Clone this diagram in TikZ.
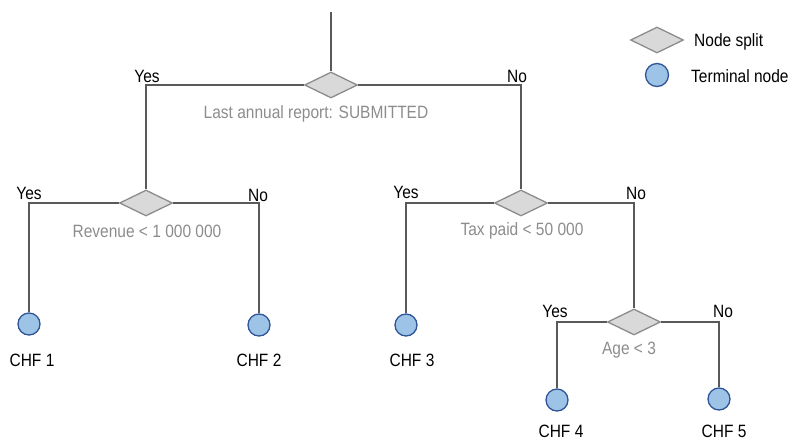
\documentclass[tikz,border=0pt]{standalone}
\usepackage{fontspec}
\setmainfont{Liberation Sans}
\usetikzlibrary{shapes.geometric}
\definecolor{linec}{HTML}{595959}
\definecolor{dfill}{HTML}{D9D9D9}
\definecolor{dline}{HTML}{8C8C8C}
\definecolor{cfill}{HTML}{9DC3E6}
\definecolor{cline}{HTML}{2F5597}
\definecolor{gtext}{HTML}{8C8C8C}
\newcommand\tallt[1]{\scalebox{1}[1.15]{#1}}
\tikzset{
  x=1pt,y=-1pt,
  conn/.style={draw=linec,line width=1.3pt},
  split/.style={diamond,draw=dline,fill=dfill,line width=1.3pt,minimum width=53pt,minimum height=26pt,inner sep=0pt,aspect=2},
  term/.style={circle,draw=cline,fill=cfill,line width=1.3pt,minimum size=22pt,inner sep=0pt},
  lbl/.style={anchor=base,inner sep=0pt,font=\fontsize{15.5}{18}\selectfont,text=black},
  cond/.style={lbl,text=gtext},
  leg/.style={anchor=base west,inner sep=0pt,font=\fontsize{15.5}{18}\selectfont,text=black},
}
\begin{document}
\begin{tikzpicture}
\useasboundingbox (0,0) rectangle (792,442);
% split nodes
\node[split] (d1) at (331,85) {};
\node[split] (d2) at (146,203) {};
\node[split] (d3) at (521,203) {};
\node[split] (d4) at (634,322) {};
% terminals
\node[term] (t1) at (29,324) {};
\node[term] (t2) at (259,325) {};
\node[term] (t3) at (406,325) {};
\node[term] (t4) at (557,400) {};
\node[term] (t5) at (719,399) {};
% top stem
\coordinate (top) at (331,12);
\draw[conn] (top) -- (d1.north);
% connectors
\draw[conn] (d1.west) -| (d2.north);
\draw[conn] (d1.east) -| (d3.north);
\draw[conn] (d2.west) -| (t1.north);
\draw[conn] (d2.east) -| (t2.north);
\draw[conn] (d3.west) -| (t3.north);
\draw[conn] (d3.east) -| (d4.north);
\draw[conn] (d4.west) -| (t4.north);
\draw[conn] (d4.east) -| (t5.north);
% yes/no labels
\node[lbl] (y1) at (147,82) {\tallt{Yes}};
\node[lbl] (n1) at (517,82) {\tallt{No}};
\node[lbl] (y2) at (29,199) {\tallt{Yes}};
\node[lbl] (n2) at (258,201) {\tallt{No}};
\node[lbl] (y3) at (406,198) {\tallt{Yes}};
\node[lbl] (n3) at (636,199) {\tallt{No}};
\node[lbl] (y4) at (555,317) {\tallt{Yes}};
\node[lbl] (n4) at (723,317) {\tallt{No}};
% conditions
\node[cond] (c1) at (316,118) {\tallt{Last annual report: SUBMITTED}};
\node[cond] (c2) at (147,237) {\tallt{Revenue < 1 000 000}};
\node[cond] (c3) at (522,235) {\tallt{Tax paid < 50 000}};
\node[cond] (c4) at (629,354) {\tallt{Age < 3}};
% terminal labels
\node[lbl] (l1) at (32,366) {\tallt{CHF 1}};
\node[lbl] (l2) at (259,366) {\tallt{CHF 2}};
\node[lbl] (l3) at (412,366) {\tallt{CHF 3}};
\node[lbl] (l4) at (561,437) {\tallt{CHF 4}};
\node[lbl] (l5) at (724,437) {\tallt{CHF 5}};
% legend
\node[split] (ls) at (657,40) {};
\node[term,minimum size=23pt] (lt) at (657,75) {};
\node[leg] (lst) at (694,46) {\tallt{Node split}};
\node[leg] (ltt) at (691,82) {\tallt{Terminal node}};
\end{tikzpicture}
\end{document}
